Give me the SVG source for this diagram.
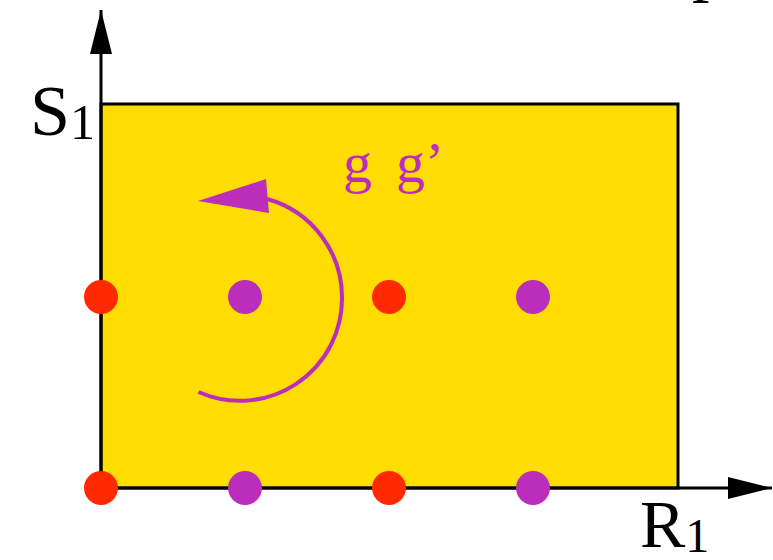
<svg xmlns="http://www.w3.org/2000/svg" width="773" height="560" viewBox="0 0 773 560">
<style>
.axis{stroke:#000;stroke-width:3;fill:none}
.red{fill:#FF2A00}
.pur{fill:#BB2EBB}
</style>
<defs>
<marker id="ah" markerWidth="44" markerHeight="22" refX="44" refY="11" orient="auto" markerUnits="userSpaceOnUse">
<path d="M0,0 L44,11 L0,22 z" fill="#000"/>
</marker>
</defs>
<rect id="plane" x="101" y="104" width="577" height="384" fill="#FFDD00" stroke="#000" stroke-width="3"/>
<g id="connectors">
<line class="axis" x1="101" y1="488" x2="101" y2="10" marker-end="url(#ah)"/>
<line class="axis" x1="101" y1="488" x2="772" y2="488" marker-end="url(#ah)"/>
<path d="M198.5,392 A102,102 0 0 0 342,298 A102,102 0 0 0 267,199" fill="none" stroke="#BB2EBB" stroke-width="4"/>
<path d="M198,201 L266,179 L269,213 z" fill="#BB2EBB"/>
</g>
<g id="labels" font-family="Liberation Serif, Times New Roman, serif">
<text x="30" y="135" font-size="72" fill="#000">S<tspan font-size="50" dy="4">1</tspan></text>
<text x="640" y="547" font-size="68" fill="#000">R<tspan font-size="48" dy="5">1</tspan></text>
<text x="692" y="-12" font-size="70" fill="#000">p</text>
<text x="343" y="182" font-size="58" fill="#BB2EBB">g<tspan x="396">g’</tspan></text>
</g>
<g id="dots">
<circle class="red" cx="101" cy="297" r="17"/>
<circle class="pur" cx="245" cy="297" r="17"/>
<circle class="red" cx="389" cy="297" r="17"/>
<circle class="pur" cx="533" cy="297" r="17"/>
<circle class="red" cx="101" cy="488" r="17"/>
<circle class="pur" cx="245" cy="488" r="17"/>
<circle class="red" cx="389" cy="488" r="17"/>
<circle class="pur" cx="533" cy="488" r="17"/>
</g>
</svg>
